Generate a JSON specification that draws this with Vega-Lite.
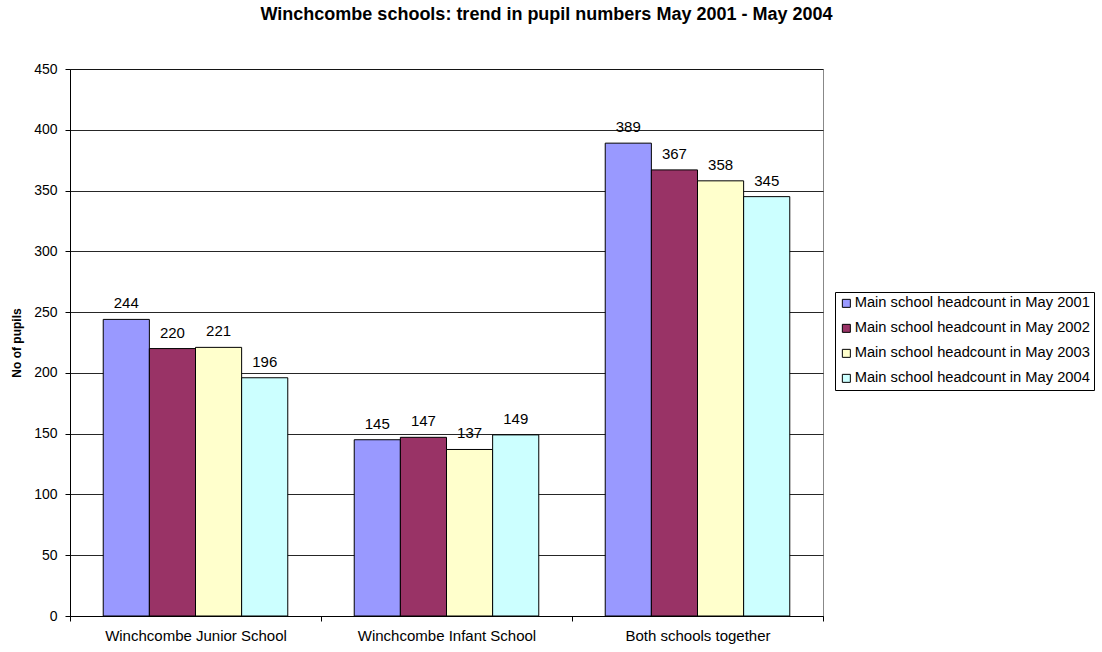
{
  "$schema": "https://vega.github.io/schema/vega-lite/v6.json",
  "width": 753,
  "height": 547,
  "autosize": {"type": "none"},
  "padding": {"left": 70, "top": 69, "right": 279, "bottom": 36},
  "background": "white",
  "title": {
    "text": "Winchcombe schools: trend in pupil numbers May 2001 - May 2004",
    "font": "Liberation Sans",
    "fontSize": 18,
    "fontWeight": "bold",
    "color": "black",
    "anchor": "middle",
    "dx": 100,
    "offset": 38
  },
  "config": {
    "font": "Liberation Sans",
    "view": {"stroke": "#888888", "strokeWidth": 1}
  },
  "data": {
    "values": [
      {"school": "Winchcombe Junior School", "series": "Main school headcount in May 2001", "pupils": 244},
      {"school": "Winchcombe Junior School", "series": "Main school headcount in May 2002", "pupils": 220},
      {"school": "Winchcombe Junior School", "series": "Main school headcount in May 2003", "pupils": 221},
      {"school": "Winchcombe Junior School", "series": "Main school headcount in May 2004", "pupils": 196},
      {"school": "Winchcombe Infant School", "series": "Main school headcount in May 2001", "pupils": 145},
      {"school": "Winchcombe Infant School", "series": "Main school headcount in May 2002", "pupils": 147},
      {"school": "Winchcombe Infant School", "series": "Main school headcount in May 2003", "pupils": 137},
      {"school": "Winchcombe Infant School", "series": "Main school headcount in May 2004", "pupils": 149},
      {"school": "Both schools together", "series": "Main school headcount in May 2001", "pupils": 389},
      {"school": "Both schools together", "series": "Main school headcount in May 2002", "pupils": 367},
      {"school": "Both schools together", "series": "Main school headcount in May 2003", "pupils": 358},
      {"school": "Both schools together", "series": "Main school headcount in May 2004", "pupils": 345}
    ]
  },
  "encoding": {
    "x": {
      "field": "school",
      "type": "nominal",
      "sort": null,
      "scale": {"paddingInner": 0, "paddingOuter": 0},
      "axis": {
        "title": null,
        "labelAngle": 0,
        "labelFontSize": 15,
        "labelColor": "black",
        "labelPadding": 7,
        "labelLimit": 300,
        "tickBand": "extent",
        "tickColor": "black",
        "tickSize": 5,
        "domainColor": "black"
      }
    },
    "xOffset": {
      "field": "series",
      "type": "nominal",
      "scale": {"paddingInner": 0, "paddingOuter": 0.72}
    },
    "y": {
      "field": "pupils",
      "type": "quantitative",
      "scale": {"domain": [0, 450]},
      "axis": {
        "title": "No of pupils",
        "titleFontSize": 12,
        "titleFontWeight": "bold",
        "titleColor": "black",
        "titlePadding": 10,
        "values": [0, 50, 100, 150, 200, 250, 300, 350, 400, 450],
        "labelFontSize": 14,
        "labelColor": "black",
        "labelPadding": 8,
        "tickColor": "black",
        "tickSize": 5,
        "domainColor": "black",
        "gridColor": "black",
        "gridOpacity": 0.85
      }
    }
  },
  "layer": [
    {
      "mark": {"type": "bar", "stroke": "black", "strokeWidth": 1},
      "encoding": {
        "color": {
          "field": "series",
          "type": "nominal",
          "scale": {
            "range": ["#9999FF", "#993366", "#FFFFCC", "#CCFFFF"]
          },
          "legend": {
            "title": null,
            "orient": "none",
            "legendX": 765,
            "legendY": 223,
            "strokeColor": "black",
            "fillColor": "white",
            "padding": 4,
            "labelFontSize": 14.7,
            "labelColor": "black",
            "labelLimit": 300,
            "symbolType": "square",
            "symbolSize": 64,
            "symbolStrokeColor": "black",
            "symbolStrokeWidth": 1,
            "symbolOpacity": 1,
            "rowPadding": 9,
            "labelOffset": 1
          }
        }
      }
    },
    {
      "mark": {"type": "text", "dy": -16, "fontSize": 15, "color": "black"},
      "encoding": {
        "text": {"field": "pupils", "type": "quantitative"}
      }
    }
  ]
}
